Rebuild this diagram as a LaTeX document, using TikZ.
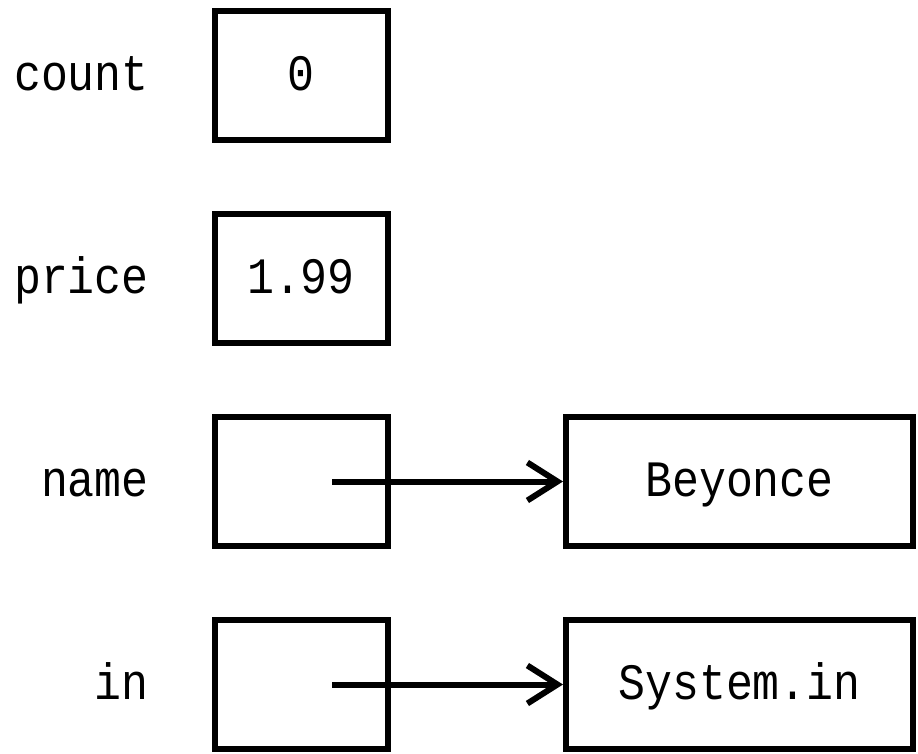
\documentclass[tikz,border=0pt]{standalone}
\usepackage{fontspec}
\setmonofont[FakeStretch=0.88]{Liberation Mono}
\usetikzlibrary{arrows.meta}
\begin{document}
\begin{tikzpicture}[x=1pt,y=-1pt,
  every node/.style={font=\ttfamily\fontsize{51}{60}\selectfont,
    text height=30pt, text depth=0pt},
  cell/.style={draw, line width=6pt, minimum width=173pt,
    minimum height=129pt, inner sep=0pt},
  obj/.style={cell, minimum width=347pt},
  varname/.style={anchor=east, inner sep=0pt},
  ref/.style={line width=6pt, -{Straight Barb[length=30pt, width=38pt]}}]
\useasboundingbox (0,0) rectangle (918,754);

% variable cells
\node[cell] (count) at (301,75.5)  {0};
\node[cell] (price) at (301,278.5) {1.99};
\node[cell] (name)  at (301,481.5) {};
\node[cell] (in)    at (301,684.5) {};

% variable names
\node[varname] (lcount) at (149,75.5)  {count};
\node[varname] (lprice) at (149,278.5) {price};
\node[varname] (lname)  at (149,481.5) {name};
\node[varname] (lin)    at (149,684.5) {in};

% referenced objects
\node[obj] (beyonce) at (739.5,481.5) {Beyonce};
\node[obj] (sysin)   at (739.5,684.5) {System.in};

% references
\coordinate (pname) at (332,481.5);
\coordinate (pin)   at (332,684.5);
\draw[ref] (pname) -- (beyonce.west);
\draw[ref] (pin) -- (sysin.west);
\end{tikzpicture}
\end{document}
